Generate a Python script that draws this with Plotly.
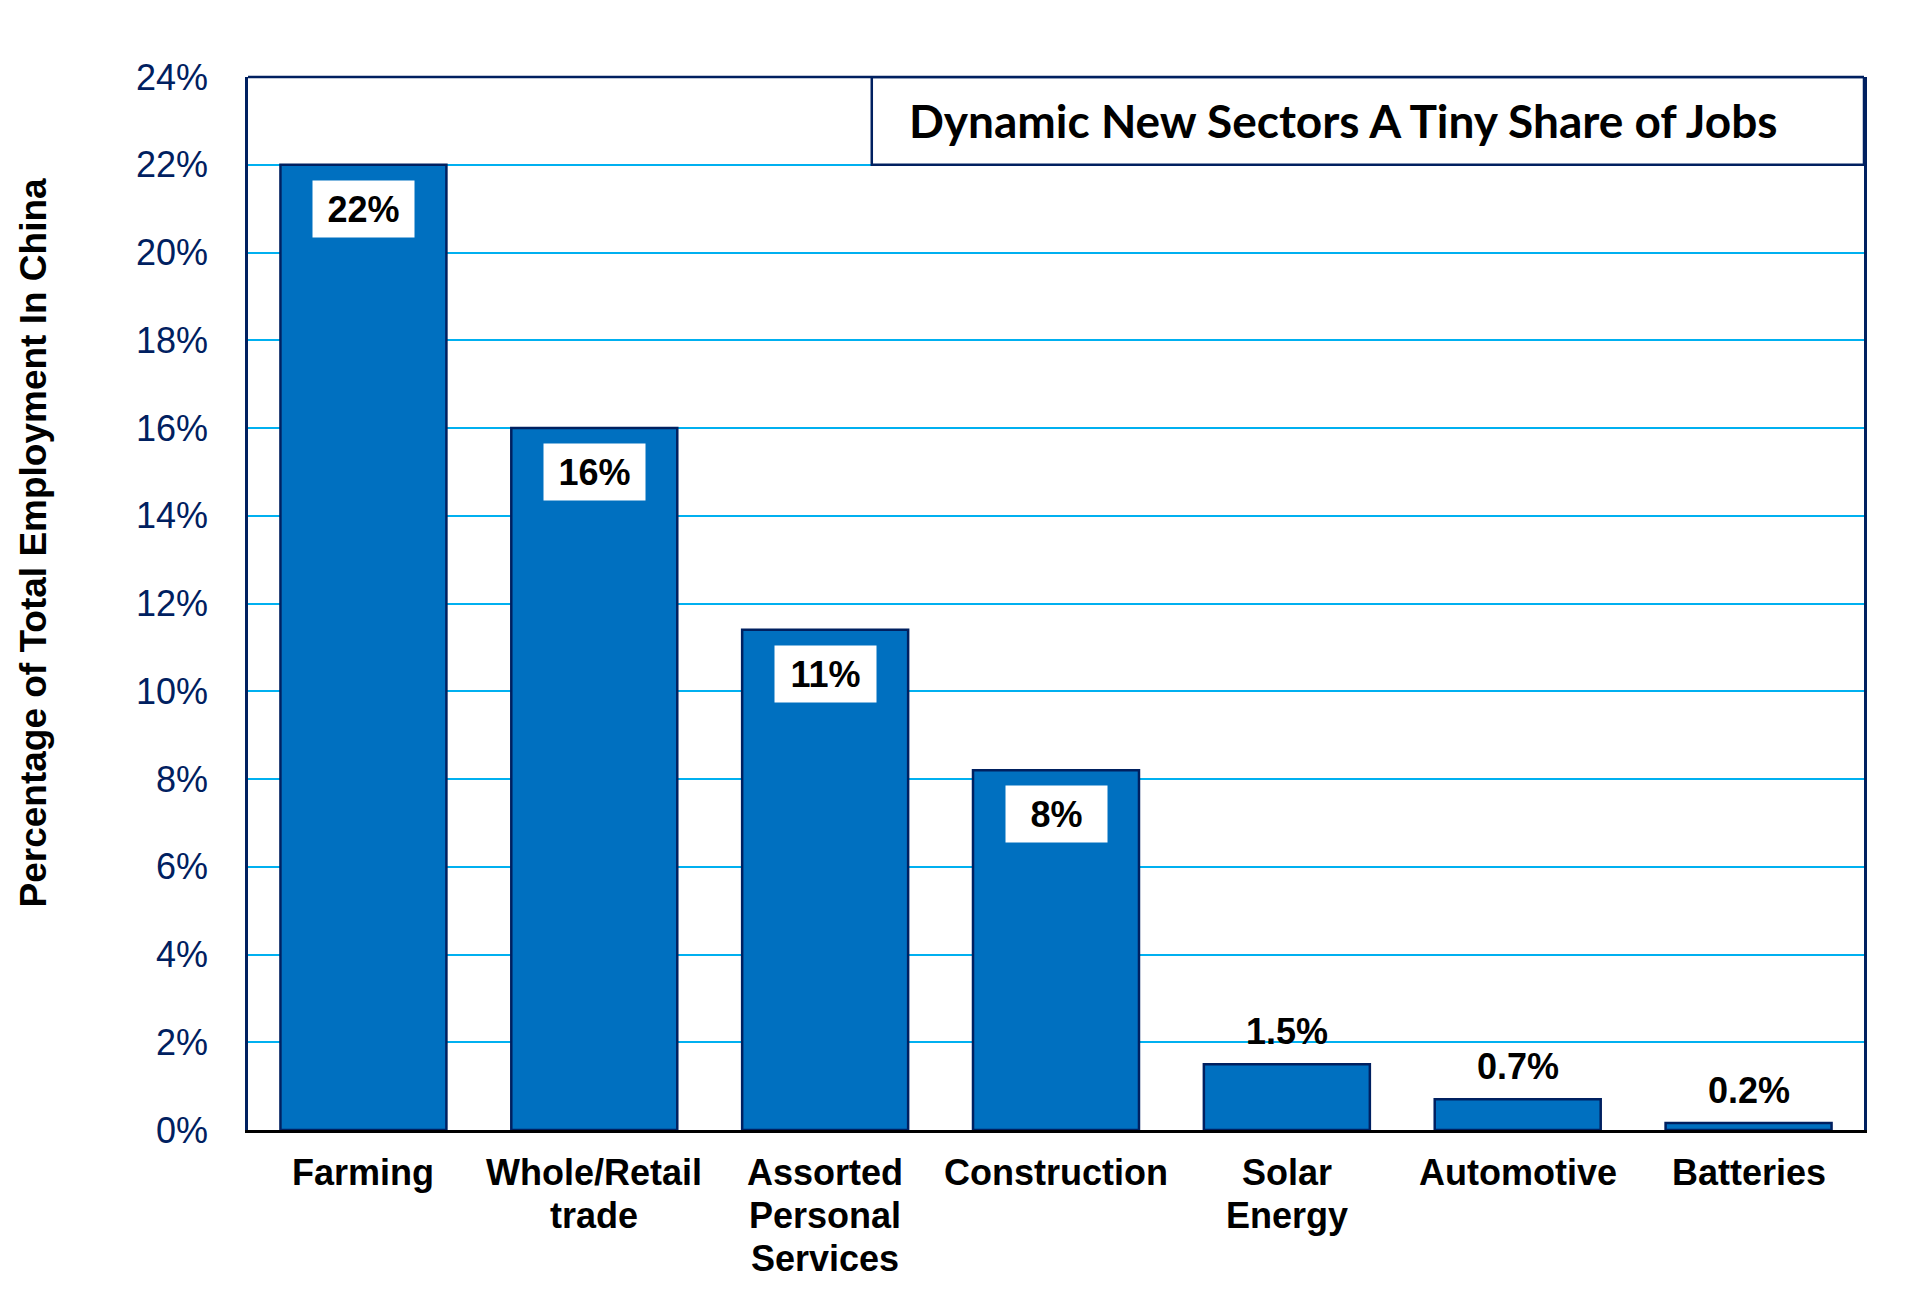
import plotly.graph_objects as go

# chart data
sectors = ["Farming", "Whole/Retail<br>trade", "Assorted<br>Personal<br>Services",
           "Construction", "Solar<br>Energy", "Automotive", "Batteries"]
share_pct = [22.0, 16.0, 11.4, 8.2, 1.5, 0.7, 0.16]
share_labels = ["22%", "16%", "11%", "8%", "1.5%", "0.7%", "0.2%"]
inside_label = [True, True, True, True, False, False, False]
y_ticks = list(range(0, 25, 2))

navy = "#002060"
bar_blue = "#0070C0"
grid_blue = "#00B0F0"
font_arial = "Arial, Liberation Sans, sans-serif"

fig = go.Figure()
fig.add_trace(go.Bar(
    x=sectors,
    y=share_pct,
    marker=dict(color=bar_blue, line=dict(color=navy, width=2.5)),
    hoverinfo="skip",
))

# value labels: white boxes inside the tall bars, plain text above the short ones
for sector, val, lab, inside in zip(sectors, share_pct, share_labels, inside_label):
    if inside:
        fig.add_annotation(x=sector, y=val, text=f"<b>{lab}</b>", showarrow=False,
                           yanchor="top", yshift=-15, width=101, height=56,
                           bgcolor="white", borderpad=0,
                           font=dict(family=font_arial, size=36, color="black"))
    else:
        fig.add_annotation(x=sector, y=val, text=f"<b>{lab}</b>", showarrow=False,
                           yanchor="bottom", yshift=10,
                           font=dict(family=font_arial, size=36, color="black"))

# category labels, one annotation per line to get the tighter line spacing
for sector in sectors:
    for i, line in enumerate(sector.split("<br>")):
        fig.add_annotation(x=sector, xref="x", yref="paper", y=0, yanchor="top",
                           yshift=-20 - 43 * i, text=f"<b>{line}</b>", showarrow=False,
                           font=dict(family=font_arial, size=36, color="black"))

# title box in the top right corner
fig.add_shape(type="rect", xref="paper", yref="y", x0=0.386, x1=1.0, y0=22, y1=24,
              fillcolor="white", line=dict(color=navy, width=2.5), layer="above")
fig.add_shape(type="line", xref="paper", yref="paper", x0=0, x1=1, y0=1, y1=1,
              line=dict(color=navy, width=2.5))
fig.add_annotation(xref="paper", yref="y", x=0.408, y=23, xanchor="left",
                   text="<b>Dynamic New Sectors A Tiny Share of Jobs</b>", showarrow=False,
                   font=dict(family="Lato, sans-serif", size=46, color="black"))

# y axis title
fig.add_annotation(xref="paper", yref="paper", x=-0.133, y=0.558, textangle=-90,
                   xanchor="center", yanchor="middle",
                   text="<b>Percentage of Total Employment In China</b>", showarrow=False,
                   font=dict(family=font_arial, size=37, color="black"))

fig.update_layout(
    width=1931, height=1298,
    margin=dict(l=240, r=75, t=69, b=176),
    paper_bgcolor="white", plot_bgcolor="white",
    bargap=0.281,
    showlegend=False,
)
fig.update_xaxes(
    showline=True, linecolor="black", linewidth=2.5,
    showgrid=False, ticks="", showticklabels=False,
)
fig.update_yaxes(
    range=[0, 24], tickvals=y_ticks, ticktext=[f"{v}%" for v in y_ticks],
    showline=True, mirror=True, linecolor=navy, linewidth=2.5,
    showgrid=True, gridcolor=grid_blue, gridwidth=2,
    zeroline=False, ticks="", ticklabelstandoff=30,
    tickfont=dict(family=font_arial, size=36, color=navy),
)

fig.write_html("out.html")
